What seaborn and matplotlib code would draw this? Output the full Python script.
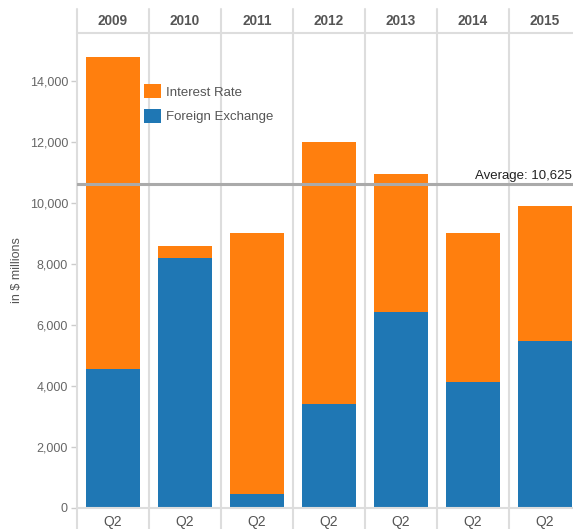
import matplotlib
matplotlib.use("Agg")
import matplotlib.pyplot as plt
from matplotlib.patches import Patch
from matplotlib.ticker import FuncFormatter
import seaborn as sns
import pandas as pd

# Quarterly (Q2) gains by year, in $ millions
years = ["2009", "2010", "2011", "2012", "2013", "2014", "2015"]
quarter = "Q2"
foreign_exchange = [4550, 8200, 470, 3420, 6430, 4130, 5480]
interest_rate = [10250, 400, 8530, 8580, 4530, 4900, 4420]
average_value = 10625
y_ticks = [0, 2000, 4000, 6000, 8000, 10000, 12000, 14000]

ORANGE = "#ff7f0e"
BLUE = "#1f77b4"
GRID = "#dddddd"

df = pd.DataFrame({
    "year": years,
    "fx": foreign_exchange,
    "ir": interest_rate,
})
df["total"] = df["fx"] + df["ir"]

sns.set_theme(style="white")
plt.rcParams["font.family"] = ["Liberation Sans", "DejaVu Sans"]

W, H = 573, 529
fig = plt.figure(figsize=(W / 100, H / 100), dpi=100)
# axes from x=77px to 581px (last panel runs past the right edge), y from 33px to 508px
left_px, right_px, top_px, bot_px = 77, 581, 33, 508
ax = fig.add_axes([left_px / W, 1 - bot_px / H, (right_px - left_px) / W, (bot_px - top_px) / H])
ax_h = bot_px - top_px

# stacked bars: full total in orange, foreign exchange in blue on top of it
sns.barplot(data=df, x="year", y="total", color=ORANGE, saturation=1, width=0.75,
            linewidth=0, edgecolor="none", ax=ax, zorder=2)
sns.barplot(data=df, x="year", y="fx", color=BLUE, saturation=1, width=0.75,
            linewidth=0, edgecolor="none", ax=ax, zorder=3)

ymax = (bot_px - top_px) / 30.5 * 1000
ax.set_xlim(-0.5, len(years) - 0.5)
ax.set_ylim(0, ymax)

# panel separators and left edge, extended into header and footer bands
y_lo = (bot_px - H) / ax_h
y_hi = (bot_px - 9) / ax_h
for x in [-0.5] + [i + 0.5 for i in range(len(years))]:
    ax.axvline(x, ymin=y_lo, ymax=y_hi, color=GRID, lw=1.5, clip_on=False, zorder=1)
ax.axhline(ymax, color=GRID, lw=1.5, clip_on=False, zorder=1)
ax.axhline(0, color=GRID, lw=1.5, clip_on=False, zorder=4)

# average reference line
ax.axhline(average_value, color="#aaaaaa", lw=2.2, zorder=5)
fig.text(572 / W, 1 - 179 / H, f"Average: {average_value:,}", ha="right", va="baseline",
         fontsize=9.5, color="#222222")

for s in ax.spines.values():
    s.set_visible(False)

# year headers and quarter labels
xt = ax.get_xaxis_transform()
for i, yr in enumerate(years):
    ax.text(i, (bot_px - 21) / ax_h, yr, transform=xt, ha="center", va="center",
            fontsize=9.8, fontweight="bold", color="#555555", clip_on=False)
ax.set_xticks(range(len(years)))
ax.set_xticklabels([quarter] * len(years))
ax.tick_params(axis="x", length=0, pad=5, labelsize=10, labelcolor="#555555")
ax.set_xlabel("")

ax.set_yticks(y_ticks)
ax.yaxis.set_major_formatter(FuncFormatter(lambda v, p: f"{int(v):,}"))
ax.tick_params(axis="y", length=4.3, width=1, color="#cccccc", pad=2.2,
               labelsize=9, labelcolor="#666666", left=True)
ax.set_ylabel("")
fig.text(17 / W, 1 - 270 / H, "in $ millions", rotation=90, ha="center", va="center",
         fontsize=9, color="#555555")

# legend
handles = [Patch(facecolor=ORANGE, edgecolor="none", label="Interest Rate"),
           Patch(facecolor=BLUE, edgecolor="none", label="Foreign Exchange")]
leg = ax.legend(handles=handles, loc="upper left",
                bbox_to_anchor=(144 / W, 1 - 84 / H), bbox_transform=fig.transFigure,
                frameon=False, borderpad=0, borderaxespad=0, fontsize=9.5,
                handlelength=1.3, handleheight=1.3, handletextpad=0.4, labelspacing=0.75)
for t in leg.get_texts():
    t.set_color("#555555")
leg.set_zorder(6)

fig.savefig("out.png", dpi=100)
